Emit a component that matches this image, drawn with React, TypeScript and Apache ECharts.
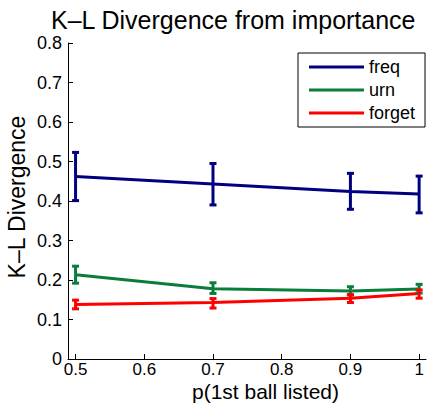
import React, { useEffect, useRef } from "react";
import * as echarts from "echarts";

const xValues = [0.5, 0.7, 0.9, 1.0];
const xTicks = [0.5, 0.6, 0.7, 0.8, 0.9, 1];
const seriesNames = ["freq", "urn", "forget"];
const seriesColors = ["#000080", "#0b7d3a", "#ff0000"];

const freqMean = [0.462, 0.443, 0.424, 0.418];
const freqLow = [0.401, 0.39, 0.379, 0.37];
const freqHigh = [0.523, 0.495, 0.47, 0.463];

const urnMean = [0.213, 0.178, 0.172, 0.177];
const urnLow = [0.192, 0.166, 0.162, 0.167];
const urnHigh = [0.235, 0.193, 0.183, 0.189];

const forgetMean = [0.138, 0.143, 0.154, 0.166];
const forgetLow = [0.127, 0.129, 0.143, 0.154];
const forgetHigh = [0.149, 0.153, 0.163, 0.175];

const means = [freqMean, urnMean, forgetMean];
const lows = [freqLow, urnLow, forgetLow];
const highs = [freqHigh, urnHigh, forgetHigh];

const FONT = "Liberation Sans";

export default function App() {
  const ref = useRef<HTMLDivElement>(null);
  useEffect(() => {
    if (!ref.current) return;
    const chart = echarts.init(ref.current, undefined, { renderer: "svg" });
    const lineSeries = seriesNames.map((name, i) => ({
      name,
      type: "line",
      data: xValues.map((x, j) => [x, means[i][j]]),
      symbol: "none",
      lineStyle: { color: seriesColors[i], width: 3 },
      itemStyle: { color: seriesColors[i] },
      z: 3,
    }));
    const errSeries = seriesNames.map((name, i) => ({
      name: name + " error",
      type: "custom",
      data: xValues.map((x, j) => [x, lows[i][j], highs[i][j]]),
      encode: { x: 0, y: [1, 2] },
      z: 4,
      renderItem: (params: any, api: any) => {
        const x = api.value(0);
        const lo = api.coord([x, api.value(1)]);
        const hi = api.coord([x, api.value(2)]);
        const hw = 3.5;
        const style = { stroke: seriesColors[i], lineWidth: 3, fill: "none" };
        return {
          type: "group",
          children: [
            { type: "line", shape: { x1: lo[0], y1: lo[1], x2: hi[0], y2: hi[1] }, style },
            { type: "line", shape: { x1: lo[0] - hw, y1: lo[1], x2: lo[0] + hw, y2: lo[1] }, style },
            { type: "line", shape: { x1: hi[0] - hw, y1: hi[1], x2: hi[0] + hw, y2: hi[1] }, style },
          ],
        };
      },
    }));
    chart.setOption({
      animation: false,
      textStyle: { fontFamily: FONT },
      title: {
        text: "K\u2013L Divergence from importance",
        left: 51,
        top: 10,
        padding: 0,
        textStyle: { fontFamily: FONT, fontSize: 25, lineHeight: 20, fontWeight: "normal", color: "#000" },
      },
      legend: {
        data: seriesNames,
        orient: "vertical",
        left: 298,
        top: 53,
        icon: "rect",
        itemWidth: 55,
        itemHeight: 3,
        itemGap: 5,
        padding: [5, 10, 5, 11],
        borderColor: "#000",
        borderWidth: 1,
        backgroundColor: "#fff",
        textStyle: { fontFamily: FONT, fontSize: 18, color: "#000" },
      },
      grid: { left: 68, right: 4, top: 43, bottom: 45, containLabel: false, outerBoundsMode: "none" },
      xAxis: {
        type: "value",
        min: 0.489,
        max: 1.01,
        name: "p(1st ball listed)",
        nameLocation: "middle",
        nameGap: 21.5,
        nameMoveOverlap: false,
        nameTextStyle: { fontFamily: FONT, fontSize: 21, lineHeight: 21, color: "#000", padding: [0, 0, 0, 37] },
        splitLine: { show: false },
        axisLine: { lineStyle: { color: "#000", width: 1 } },
        axisTick: { inside: true, length: 5, customValues: xTicks, lineStyle: { color: "#000" } },
        axisLabel: {
          customValues: xTicks,
          interval: 0,
          hideOverlap: false,
          formatter: (v: number) => String(Math.round(v * 10) / 10),
          fontFamily: FONT,
          fontSize: 17,
          lineHeight: 17,
          color: "#000",
          margin: 1.5,
        },
      },
      yAxis: {
        type: "value",
        min: 0,
        max: 0.8,
        interval: 0.1,
        name: "K\u2013L Divergence",
        nameLocation: "middle",
        nameGap: 40,
        nameMoveOverlap: false,
        nameTextStyle: { fontFamily: FONT, fontSize: 23, color: "#000", padding: [0, 0, 0, 8] },
        splitLine: { show: false },
        axisLine: { show: true, lineStyle: { color: "#000", width: 1 } },
        axisTick: { show: true, inside: true, length: 5, lineStyle: { color: "#000" } },
        axisLabel: {
          formatter: (v: number) => (v === 0 ? "0" : String(Math.round(v * 10) / 10)),
          fontFamily: FONT,
          fontSize: 18,
          lineHeight: 14,
          padding: [4, 0, 0, 0],
          color: "#000",
          margin: 6,
        },
      },
      series: [...lineSeries, ...errSeries],
    });
    return () => chart.dispose();
  }, []);
  return <div ref={ref} style={{ width: 430, height: 404, position: "absolute", left: 0, top: 0 }} />;
}
